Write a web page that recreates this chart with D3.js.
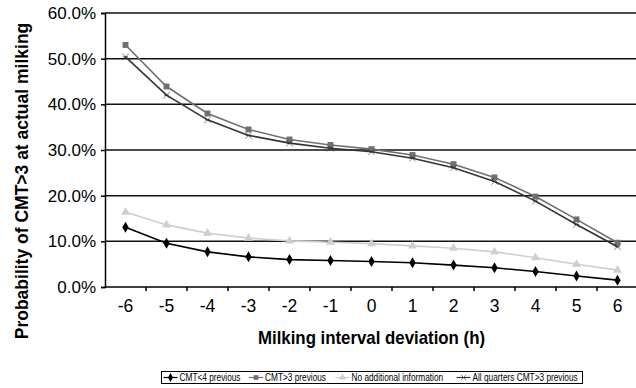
<!DOCTYPE html>
<html>
<head>
<meta charset="utf-8">
<script src="https://cdn.jsdelivr.net/npm/d3@7"></script>
<style>
  body { margin: 0; background: #fff; }
  svg { display: block; font-family: "Liberation Sans", Arial, sans-serif; }
</style>
</head>
<body>
<div id="chart"></div>
<script>
// hours of deviation from the regular milking interval
const deviations = [-6, -5, -4, -3, -2, -1, 0, 1, 2, 3, 4, 5, 6];

// probability (%) of CMT>3 at actual milking
const cmtBelow4 = [13.1, 9.6, 7.7, 6.6, 6.0, 5.8, 5.6, 5.3, 4.8, 4.2, 3.4, 2.4, 1.5];
const cmtAbove3 = [53.0, 43.9, 38.0, 34.5, 32.3, 31.1, 30.2, 28.9, 26.9, 24.0, 19.8, 14.8, 9.7];
const noInfo = [16.4, 13.6, 11.8, 10.7, 10.1, 9.8, 9.5, 9.0, 8.5, 7.7, 6.4, 5.0, 3.7];
const allQuarters = [50.4, 42.0, 36.6, 33.2, 31.5, 30.4, 29.6, 28.2, 26.1, 23.1, 18.8, 13.7, 8.8];

const yTicks = [0, 10, 20, 30, 40, 50, 60];

const series = [
  { name: 'CMT<4 previous', values: cmtBelow4, color: '#000', marker: 'diamond' },
  { name: 'CMT>3 previous', values: cmtAbove3, color: '#707070', marker: 'square' },
  { name: 'No additional information', values: noInfo, color: '#cfcfcf', marker: 'triangle' },
  { name: 'All quarters CMT>3 previous', values: allQuarters, color: '#333', marker: 'star' }
];

const width = 636, height = 388;
const margin = { top: 13, right: -2, bottom: 101, left: 105 };

const svg = d3.select('#chart').append('svg').attr('width', width).attr('height', height);

const x = d3.scaleBand()
  .domain(deviations)
  .range([margin.left, width - margin.right]);

const y = d3.scaleLinear()
  .domain([0, 60])
  .range([height - margin.bottom, margin.top]);

// horizontal gridlines
svg.append('g')
  .selectAll('line')
  .data(yTicks.slice(1))
  .enter()
  .append('line')
  .attr('x1', margin.left)
  .attr('x2', width)
  .attr('y1', d => y(d))
  .attr('y2', d => y(d))
  .style('stroke', '#111')
  .style('stroke-width', 1.5);

// y axis
const yAxis = svg.append('g')
  .attr('transform', `translate(${margin.left},0)`)
  .call(d3.axisLeft(y).tickValues(yTicks).tickSize(4).tickFormat(d => d.toFixed(1) + '%'));
yAxis.select('.domain').style('stroke', '#000').style('stroke-width', 1.5);
yAxis.selectAll('.tick line').style('stroke', '#000').style('stroke-width', 1.5);
yAxis.selectAll('.tick text')
  .attr('x', -9)
  .style('font-size', '17px')
  .style('font-family', '"Liberation Sans", Arial, sans-serif')
  .style('fill', '#000');

// x axis: ticks on band boundaries
const xAxisG = svg.append('g').attr('transform', `translate(0,${y(0)})`);
xAxisG.append('line')
  .attr('x1', margin.left)
  .attr('x2', width)
  .style('stroke', '#000')
  .style('stroke-width', 1.5);
xAxisG.selectAll('.bnd')
  .data(deviations)
  .enter()
  .append('line')
  .attr('class', 'bnd')
  .attr('x1', d => x(d) + x.bandwidth())
  .attr('x2', d => x(d) + x.bandwidth())
  .attr('y1', 0)
  .attr('y2', 4)
  .style('stroke', '#000')
  .style('stroke-width', 1.5);
xAxisG.selectAll('text')
  .data(deviations)
  .enter()
  .append('text')
  .attr('x', d => x(d) + x.bandwidth() / 2)
  .attr('y', 25)
  .attr('text-anchor', 'middle')
  .style('font-size', '17.5px')
  .text(d => d);

// axis titles
svg.append('text')
  .attr('x', 371.5)
  .attr('y', 343.5)
  .attr('text-anchor', 'middle')
  .attr('textLength', 227)
  .attr('lengthAdjust', 'spacingAndGlyphs')
  .style('font-size', '18.5px')
  .style('font-weight', 'bold')
  .text('Milking interval deviation (h)');

svg.append('text')
  .attr('transform', 'translate(28,181) rotate(-90)')
  .attr('text-anchor', 'middle')
  .style('font-size', '17.5px')
  .style('font-weight', 'bold')
  .text('Probability of CMT>3 at actual milking');

const cx = d => x(d) + x.bandwidth() / 2;

const line = d3.line()
  .x((d, i) => cx(deviations[i]))
  .y(d => y(d));

function drawMarker(g, type, color, s) {
  if (type === 'diamond') {
    g.append('path').attr('d', d3.symbol(d3.symbolDiamond, s * 14)()).style('fill', color);
  } else if (type === 'square') {
    g.append('path').attr('d', d3.symbol(d3.symbolSquare, s * 14)()).style('fill', color);
  } else if (type === 'triangle') {
    g.append('path').attr('d', d3.symbol(d3.symbolTriangle, s * 14)()).style('fill', color);
  } else {
    g.append('path').attr('d', d3.symbol(d3.symbolX, s * 12)()).style('fill', color)
      .style('stroke', color).style('stroke-width', 0.6);
    g.append('line').attr('x1', -s * 0.9).attr('x2', s * 0.9).attr('y1', 0).attr('y2', 0)
      .style('stroke', color).style('stroke-width', 1);
  }
}

// draw lighter series first so darker lines stay on top
const order = [2, 1, 3, 0];
order.forEach(k => {
  const s = series[k];
  svg.append('path')
    .datum(s.values)
    .attr('d', line)
    .style('fill', 'none')
    .style('stroke', s.color)
    .style('stroke-width', 1.6);
  s.values.forEach((v, i) => {
    const g = svg.append('g').attr('transform', `translate(${cx(deviations[i])},${y(v)})`);
    drawMarker(g, s.marker, s.color, 2.5);
  });
});

// legend
const legend = svg.append('g');
legend.append('rect')
  .attr('x', 161.5)
  .attr('y', 371.5)
  .attr('width', 421)
  .attr('height', 12)
  .style('fill', '#fff')
  .style('stroke', '#000')
  .style('stroke-width', 1);

// left edge of each legend label
const legendX = [179.5, 265, 351.5, 472.5];
series.forEach((s, k) => {
  const g = legend.append('g').attr('transform', `translate(${legendX[k]},377.5)`);
  g.append('line').attr('x1', -16).attr('x2', -2).style('stroke', s.color).style('stroke-width', 1.2);
  const m = g.append('g').attr('transform', 'translate(-9,0)');
  drawMarker(m, s.marker, s.color, 1.6);
  g.append('text')
    .attr('transform', 'scale(0.83,1)')
    .attr('y', 3.5)
    .style('font-size', '10px')
    .style('fill', '#000')
    .text(s.name);
});
</script>
</body>
</html>
